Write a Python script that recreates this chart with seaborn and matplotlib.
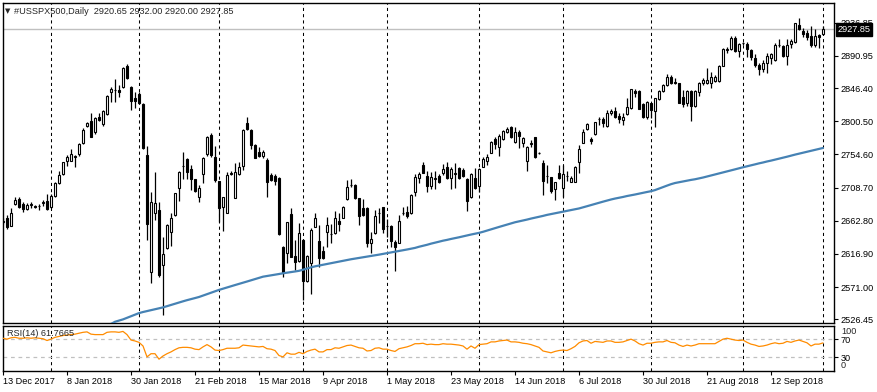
import numpy as np
import pandas as pd
import matplotlib
matplotlib.use('Agg')
import matplotlib.pyplot as plt
import seaborn as sns

# trading days of the CFD (US holidays traded, except Christmas, New Year, Good Friday)
dates = pd.bdate_range('2017-12-13', '2018-10-01')
dates = dates.drop(pd.to_datetime(['2017-12-25', '2018-01-01', '2018-03-30']))

opens = [
    2661.0, 2666.2, 2656.0, 2685.5, 2692.5, 2686.0, 2679.0, 2685.0, 2683.0, 2683.0,
    2688.0, 2690.0, 2682.0, 2697.5, 2714.6, 2727.0, 2746.0, 2746.0, 2751.0, 2755.0,
    2771.0, 2794.0, 2800.8, 2785.0, 2805.9, 2796.0, 2810.0, 2841.4, 2843.5, 2843.7,
    2847.4, 2877.0, 2847.4, 2832.0, 2837.7, 2824.4, 2753.8, 2592.4, 2674.0, 2677.7,
    2601.6, 2624.7, 2647.7, 2670.8, 2708.6, 2738.0, 2747.8, 2734.0, 2720.0, 2695.2,
    2727.5, 2754.7, 2781.5, 2750.6, 2717.8, 2682.3, 2674.0, 2727.0, 2694.8, 2727.5,
    2738.6, 2798.5, 2788.4, 2767.6, 2757.5, 2752.9, 2746.9, 2726.1, 2724.7, 2722.4,
    2627.0, 2617.7, 2672.2, 2614.0, 2607.1, 2636.2, 2579.9, 2604.8, 2654.6, 2634.8,
    2621.4, 2647.7, 2644.0, 2645.4, 2662.5, 2667.1, 2692.9, 2712.0, 2712.3, 2693.8,
    2680.9, 2680.9, 2631.6, 2645.4, 2673.5, 2681.4, 2655.5, 2655.6, 2633.9, 2632.5,
    2673.5, 2675.4, 2674.0, 2703.1, 2722.4, 2740.0, 2724.7, 2711.4, 2721.0, 2724.7,
    2729.4, 2736.7, 2721.5, 2728.0, 2735.3, 2733.0, 2720.6, 2695.2, 2722.4, 2710.9,
    2737.7, 2745.5, 2757.0, 2776.0, 2765.3, 2775.5, 2785.2, 2792.1, 2772.2, 2786.1,
    2770.0, 2746.0, 2769.6, 2778.3, 2756.0, 2742.3, 2724.7, 2722.9, 2706.3, 2728.4,
    2707.7, 2724.8, 2716.9, 2716.9, 2744.6, 2770.9, 2789.3, 2775.9, 2782.4, 2803.3,
    2803.6, 2793.9, 2811.5, 2815.0, 2807.7, 2802.2, 2810.5, 2818.4, 2842.4, 2842.4,
    2824.4, 2805.9, 2825.3, 2815.1, 2830.8, 2842.8, 2850.6, 2862.2, 2854.3, 2852.9,
    2833.6, 2825.3, 2842.4, 2822.1, 2841.4, 2853.3, 2853.9, 2853.9, 2856.2, 2856.6,
    2877.4, 2899.6, 2900.0, 2915.2, 2898.1, 2908.2, 2907.4, 2899.1, 2887.5, 2878.3,
    2872.8, 2880.6, 2887.5, 2885.2, 2905.8, 2904.6, 2890.8, 2907.4, 2910.6, 2933.7,
    2925.8, 2923.0, 2918.4, 2906.0, 2919.8, 2920.65,
]
highs = [
    2666.0, 2670.8, 2680.0, 2696.0, 2696.0, 2689.0, 2687.0, 2689.0, 2685.0, 2686.0,
    2692.0, 2700.0, 2700.0, 2717.0, 2731.0, 2744.5, 2754.0, 2762.0, 2754.0, 2770.0,
    2790.7, 2799.0, 2811.5, 2806.0, 2812.0, 2816.0, 2836.8, 2847.4, 2858.5, 2850.6,
    2875.0, 2879.2, 2849.3, 2841.4, 2841.4, 2826.0, 2766.3, 2703.0, 2730.7, 2689.0,
    2640.8, 2657.9, 2673.0, 2701.7, 2731.7, 2757.5, 2749.2, 2740.0, 2720.6, 2712.3,
    2750.6, 2780.0, 2784.7, 2766.2, 2718.0, 2696.0, 2730.7, 2732.0, 2743.0, 2744.6,
    2789.3, 2806.8, 2789.3, 2768.5, 2764.4, 2760.7, 2749.2, 2729.3, 2727.5, 2723.8,
    2628.0, 2661.5, 2680.9, 2636.0, 2659.3, 2637.0, 2615.4, 2652.3, 2674.0, 2657.0,
    2627.9, 2667.5, 2657.8, 2676.8, 2673.0, 2683.2, 2719.2, 2720.0, 2713.7, 2694.5,
    2692.4, 2681.5, 2647.7, 2677.7, 2680.0, 2682.0, 2665.0, 2657.0, 2636.2, 2670.8,
    2682.3, 2683.2, 2700.0, 2727.5, 2730.7, 2744.6, 2732.1, 2730.7, 2732.1, 2727.5,
    2741.4, 2743.7, 2736.7, 2742.3, 2737.6, 2735.3, 2721.5, 2728.4, 2735.3, 2735.3,
    2750.6, 2755.2, 2773.6, 2779.2, 2782.9, 2788.4, 2793.0, 2794.0, 2793.0, 2788.4,
    2778.3, 2766.3, 2774.5, 2779.2, 2758.4, 2746.9, 2740.0, 2723.8, 2716.9, 2740.0,
    2740.0, 2732.0, 2724.7, 2738.6, 2767.6, 2789.3, 2797.6, 2778.3, 2799.9, 2806.8,
    2805.9, 2816.1, 2817.0, 2820.7, 2811.4, 2811.4, 2832.2, 2845.6, 2844.7, 2843.7,
    2826.2, 2829.0, 2826.2, 2833.1, 2843.7, 2852.0, 2865.9, 2864.5, 2859.9, 2853.9,
    2843.7, 2843.7, 2843.7, 2843.7, 2855.3, 2859.9, 2873.7, 2869.1, 2864.5, 2878.3,
    2901.4, 2903.7, 2918.5, 2918.5, 2909.2, 2910.6, 2910.6, 2900.0, 2893.5, 2880.6,
    2885.2, 2894.5, 2895.4, 2908.3, 2913.8, 2906.0, 2913.8, 2913.8, 2936.9, 2942.9,
    2929.0, 2926.8, 2932.3, 2927.7, 2921.2, 2932.0,
]
lows = [
    2658.0, 2651.0, 2655.0, 2684.0, 2681.0, 2675.0, 2678.0, 2680.0, 2681.0, 2678.0,
    2683.0, 2678.0, 2680.0, 2696.0, 2714.0, 2726.0, 2738.6, 2745.0, 2737.7, 2752.0,
    2769.0, 2793.0, 2778.0, 2782.4, 2801.0, 2794.4, 2809.0, 2827.6, 2827.6, 2834.5,
    2846.0, 2859.0, 2816.0, 2818.4, 2824.4, 2762.0, 2636.2, 2576.2, 2664.0, 2585.0,
    2532.4, 2623.8, 2628.0, 2669.9, 2690.0, 2720.0, 2720.0, 2705.4, 2703.0, 2688.3,
    2714.6, 2753.0, 2751.5, 2717.0, 2661.6, 2649.1, 2673.0, 2726.0, 2693.8, 2726.1,
    2733.0, 2788.4, 2761.6, 2749.2, 2750.6, 2749.2, 2696.0, 2718.3, 2712.3, 2643.1,
    2585.5, 2604.8, 2612.2, 2594.7, 2606.2, 2553.2, 2578.5, 2561.0, 2653.7, 2598.4,
    2610.0, 2627.0, 2631.6, 2644.5, 2649.1, 2666.2, 2691.5, 2709.0, 2692.9, 2657.0,
    2669.4, 2627.0, 2617.7, 2644.5, 2659.3, 2645.4, 2640.0, 2627.0, 2593.8, 2631.6,
    2670.8, 2666.2, 2672.0, 2697.1, 2715.5, 2728.4, 2703.1, 2706.3, 2706.3, 2714.6,
    2726.1, 2721.0, 2706.3, 2707.7, 2720.0, 2723.8, 2676.8, 2693.8, 2706.3, 2703.0,
    2736.7, 2740.0, 2756.0, 2761.7, 2752.4, 2774.6, 2783.8, 2777.5, 2770.9, 2763.0,
    2765.3, 2732.1, 2765.3, 2749.2, 2754.7, 2698.5, 2714.6, 2701.7, 2691.5, 2721.0,
    2696.0, 2718.3, 2716.0, 2716.0, 2729.4, 2770.0, 2788.4, 2769.0, 2781.5, 2795.3,
    2793.0, 2792.1, 2809.0, 2804.5, 2798.5, 2795.3, 2809.1, 2817.0, 2833.6, 2817.0,
    2804.5, 2803.1, 2804.5, 2792.1, 2829.9, 2841.4, 2849.3, 2852.0, 2851.5, 2825.3,
    2820.7, 2821.6, 2801.3, 2820.7, 2835.4, 2850.6, 2852.0, 2846.0, 2855.3, 2855.3,
    2876.9, 2895.4, 2899.1, 2896.8, 2889.9, 2906.0, 2889.9, 2885.2, 2875.1, 2864.5,
    2869.1, 2867.7, 2879.7, 2884.3, 2902.8, 2889.9, 2878.3, 2901.4, 2909.2, 2926.8,
    2917.5, 2912.9, 2903.7, 2902.8, 2901.4, 2920.0,
]
closes = [
    2663.0, 2653.7, 2673.0, 2691.5, 2682.0, 2679.0, 2684.0, 2686.0, 2682.5, 2683.5,
    2689.0, 2679.0, 2697.5, 2714.6, 2726.0, 2743.7, 2750.6, 2755.0, 2752.0, 2769.0,
    2788.0, 2797.6, 2779.0, 2804.6, 2802.0, 2814.7, 2835.8, 2845.0, 2844.0, 2841.4,
    2873.7, 2860.0, 2829.0, 2829.0, 2825.3, 2763.0, 2657.9, 2689.2, 2687.0, 2587.8,
    2616.8, 2656.9, 2666.2, 2700.8, 2730.7, 2739.0, 2730.7, 2720.0, 2704.5, 2707.7,
    2749.2, 2779.2, 2753.8, 2719.2, 2680.0, 2695.2, 2726.1, 2728.4, 2730.7, 2737.6,
    2788.4, 2789.3, 2767.6, 2750.1, 2752.4, 2757.5, 2716.9, 2719.2, 2718.3, 2644.5,
    2590.0, 2660.6, 2613.1, 2606.2, 2645.4, 2579.9, 2614.0, 2650.0, 2667.1, 2610.8,
    2611.7, 2656.9, 2645.0, 2666.2, 2658.3, 2681.4, 2709.1, 2712.3, 2693.8, 2669.9,
    2670.8, 2632.5, 2637.1, 2669.4, 2674.0, 2651.0, 2655.6, 2634.8, 2627.0, 2663.0,
    2674.0, 2669.9, 2698.5, 2723.8, 2727.0, 2729.4, 2711.4, 2722.9, 2721.5, 2716.0,
    2734.4, 2721.5, 2734.0, 2728.5, 2721.5, 2725.2, 2690.6, 2727.0, 2707.7, 2734.4,
    2748.3, 2751.5, 2771.3, 2769.0, 2780.5, 2787.0, 2789.8, 2778.3, 2786.1, 2780.6,
    2776.9, 2765.3, 2770.0, 2750.6, 2757.0, 2718.3, 2724.8, 2704.5, 2716.0, 2721.5,
    2727.5, 2724.5, 2721.5, 2736.7, 2761.6, 2785.2, 2796.7, 2773.6, 2799.0, 2803.7,
    2798.5, 2811.5, 2814.7, 2806.0, 2803.6, 2806.8, 2819.8, 2844.7, 2839.1, 2817.5,
    2805.9, 2827.6, 2816.0, 2832.2, 2842.4, 2850.6, 2861.2, 2853.9, 2852.9, 2826.2,
    2824.4, 2842.4, 2821.6, 2842.4, 2852.9, 2857.6, 2857.6, 2862.2, 2861.3, 2876.9,
    2900.0, 2900.0, 2915.2, 2898.1, 2907.4, 2908.3, 2900.0, 2889.9, 2878.3, 2872.3,
    2880.6, 2890.8, 2893.1, 2906.0, 2906.0, 2890.8, 2906.0, 2912.0, 2936.0, 2927.7,
    2921.2, 2917.5, 2906.0, 2918.4, 2917.5, 2927.85,
]
# 200-day moving average, visible from the 28th bar on (earlier values lie below the chart)
ma200 = [np.nan] * 27 + [
    2520.0, 2523.0, 2524.6, 2526.3, 2528.5, 2530.6, 2532.8, 2535.0, 2536.5, 2537.8,
    2539.2, 2540.4, 2541.7, 2542.9, 2544.6, 2546.2, 2548.0, 2549.7, 2551.3, 2552.9,
    2554.3, 2555.8, 2557.3, 2559.2, 2561.2, 2563.2, 2565.2, 2567.1, 2568.8, 2570.4,
    2572.1, 2573.8, 2575.4, 2577.1, 2578.7, 2580.4, 2582.1, 2583.7, 2585.4, 2586.3,
    2587.3, 2588.2, 2589.1, 2590.1, 2590.9, 2591.7, 2592.6, 2593.5, 2595.0, 2596.6,
    2598.3, 2599.7, 2600.8, 2601.9, 2603.0, 2604.1, 2605.2, 2606.3, 2607.4, 2608.6,
    2609.5, 2610.4, 2611.4, 2612.2, 2613.2, 2614.1, 2615.0, 2615.9, 2616.9, 2617.9,
    2618.9, 2620.0, 2620.9, 2622.0, 2623.0, 2624.1, 2625.2, 2626.8, 2628.1, 2629.5,
    2631.1, 2632.4, 2633.8, 2635.2, 2636.3, 2637.6, 2638.7, 2639.9, 2641.2, 2642.4,
    2643.7, 2644.8, 2646.0, 2647.5, 2649.2, 2650.8, 2652.5, 2654.2, 2655.8, 2657.5,
    2659.1, 2660.7, 2661.9, 2663.2, 2664.4, 2665.8, 2667.0, 2668.3, 2669.5, 2670.9,
    2672.0, 2673.1, 2674.2, 2675.3, 2676.4, 2677.5, 2678.6, 2679.8, 2681.3, 2682.9,
    2684.5, 2686.0, 2687.7, 2689.2, 2690.7, 2692.2, 2693.5, 2694.6, 2695.7, 2697.0,
    2698.0, 2699.1, 2700.3, 2701.5, 2702.6, 2703.7, 2705.2, 2707.3, 2709.4, 2711.4,
    2713.4, 2715.0, 2716.1, 2717.3, 2718.2, 2719.3, 2720.2, 2721.4, 2722.6, 2724.0,
    2725.4, 2726.8, 2728.2, 2729.6, 2731.0, 2732.5, 2733.9, 2735.4, 2736.8, 2738.1,
    2739.4, 2740.8, 2742.2, 2743.4, 2744.8, 2746.0, 2747.4, 2748.7, 2750.0, 2751.4,
    2752.9, 2754.3, 2755.6, 2757.0, 2758.2, 2759.6, 2760.8, 2762.2, 2763.5,
]
rsi14 = [
    72, 70, 73, 74, 72, 72, 73, 72, 73, 72,
    71, 67, 70, 74, 76, 78, 79, 80, 81, 83,
    85, 86, 81, 80, 80, 80, 85, 86, 86, 85,
    87, 80, 68, 66, 63, 55, 31, 38, 38, 26,
    33, 38, 42, 47, 51, 52, 52, 51, 48, 47,
    53, 58, 53, 46, 45, 47, 50, 50, 50, 51,
    57, 56, 55, 54, 53, 54, 49, 48, 45, 34,
    31, 40, 37, 37, 41, 38, 43, 46, 48, 42,
    42, 47, 47, 51, 50, 53, 56, 57, 54, 51,
    50, 44, 45, 50, 51, 48, 48, 45, 43, 49,
    51, 53, 56, 60, 60, 61, 58, 59, 58, 58,
    60, 59, 59, 58, 57, 55, 48, 55, 50, 58,
    59, 60, 64, 64, 66, 67, 68, 64, 64, 63,
    61, 60, 58, 55, 52, 44, 42, 40, 43, 45,
    46, 45, 49, 54, 62, 66, 67, 61, 65, 64,
    63, 66, 66, 63, 63, 64, 67, 70, 66, 60,
    57, 61, 61, 63, 64, 64, 67, 63, 62, 57,
    54, 57, 55, 57, 60, 60, 60, 60, 60, 65,
    70, 72, 70, 68, 67, 68, 63, 59, 57, 54,
    55, 57, 60, 62, 60, 61, 65, 63, 66, 68,
    65, 62, 55, 59, 59, 61.7665,
]

price_ticks = [2936.85, 2890.95, 2846.40, 2800.50, 2754.60, 2708.70, 2662.80, 2616.90, 2571.00, 2526.45]
last_price = 2927.85
title_text = '#USSPX500,Daily  2920.65 2932.00 2920.00 2927.85'
rsi_text = 'RSI(14) 61.7665'

df = pd.DataFrame({'bar': np.arange(len(dates)), 'date': dates,
                   'open': opens, 'high': highs, 'low': lows, 'close': closes,
                   'ma200': ma200, 'rsi': rsi14})

sns.set_style('white')
plt.rcParams['font.family'] = ['Liberation Sans', 'DejaVu Sans']
fs = 6.6

W, H = 878, 392
fig = plt.figure(figsize=(W / 100, H / 100), dpi=100)
ax = fig.add_axes([2.5 / W, 1 - 323 / H, 831.5 / W, 320.5 / H])
ax_r = fig.add_axes([2.5 / W, 1 - 371 / H, 831.5 / W, 45.5 / H])

xlim = (-0.125, 207.75)

# month separators (first bar of every month)
month_start = df.index[df['date'].dt.month != df['date'].shift().dt.month][1:]
for b in month_start:
    for a in (ax, ax_r):
        a.axvline(b, color='black', lw=0.75, ls=(0, (3, 3)), zorder=1)

# candles
up = df['close'] >= df['open']
ax.vlines(df['bar'], df['low'], df['high'], color='black', lw=0.9, zorder=2)
body = np.maximum((df['close'] - df['open']).abs(), 0.5)
ax.bar(df['bar'], body, bottom=np.minimum(df['open'], df['close']), width=0.55,
       color=np.where(up, 'white', 'black'), edgecolor='black', linewidth=0.8, zorder=3)

ax.axhline(last_price, color='#C0C0C0', lw=1, zorder=1)
sns.lineplot(data=df, x='bar', y='ma200', ax=ax, color='#4682B4', linewidth=1.6, zorder=4)

ax.set_xlim(*xlim)
ax.set_ylim(2521.3, 2964.8)
ax.set_xticks([])
ax.yaxis.tick_right()
ax.set_yticks(price_ticks)
ax.set_yticklabels([f'{v:.2f}' for v in price_ticks])
ax.tick_params(axis='y', length=3, width=0.8, pad=2, labelsize=fs, colors='black', right=True)
ax.set_xlabel('')
ax.set_ylabel('')

# RSI panel
ax_r.axhline(70, color='#C0C0C0', lw=0.9, ls=(0, (3, 3)), zorder=1)
ax_r.axhline(30, color='#C0C0C0', lw=0.9, ls=(0, (3, 3)), zorder=1)
sns.lineplot(data=df, x='bar', y='rsi', ax=ax_r, color='#FF8C00', linewidth=0.9, zorder=3)
ax_r.set_xlim(*xlim)
ax_r.set_ylim(0, 100)
ax_r.yaxis.tick_right()
ax_r.set_yticks([70, 30])
ax_r.set_yticklabels(['70', '30'])
ax_r.set_xticks(df['bar'][::16])
ax_r.set_xticklabels([f'{d.day} {d:%b %Y}' for d in df['date'][::16]], ha='left')
ax_r.tick_params(axis='x', length=3, width=0.8, pad=1.5, labelsize=fs, colors='black', bottom=True)
ax_r.tick_params(axis='y', length=3, width=0.8, pad=2, labelsize=fs, colors='black', right=True)
ax_r.set_xlabel('')
ax_r.set_ylabel('')

for a in (ax, ax_r):
    for s in a.spines.values():
        s.set_color('black')
        s.set_linewidth(1)

fig.text(841 / W, 1 - 331 / H, '100', fontsize=fs, va='center', ha='left')
fig.text(841 / W, 1 - 366 / H, '0', fontsize=fs, va='center', ha='left')

fig.text(837.5 / W, 1 - 29.5 / H, f'{last_price:.2f}', color='white', fontsize=fs,
         va='center', ha='left', zorder=10,
         bbox=dict(boxstyle='square,pad=0.18', fc='black', ec='black'))

fig.text(5 / W, 1 - 11 / H, '▼', fontsize=5, va='center', ha='left', family=['DejaVu Sans'])
fig.text(14 / W, 1 - 11 / H, title_text, fontsize=fs, va='center', ha='left')
fig.text(7 / W, 1 - 333.5 / H, rsi_text, fontsize=fs, va='center', ha='left')

fig.savefig('out.png', dpi=100)
